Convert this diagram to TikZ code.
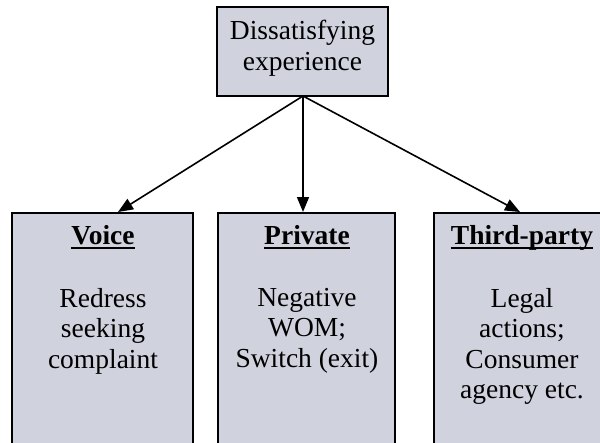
\documentclass[tikz,border=0pt]{standalone}
\usepackage{fontspec}
\setmainfont{Liberation Serif}
\usetikzlibrary{arrows.meta}
\definecolor{boxfill}{RGB}{208,211,222}
% bold heading with a heavier rule under it
\newcommand{\hdline}[1]{\setbox0\hbox{#1}\rlap{\rule[-4.5pt]{\wd0}{2pt}}\box0}
\begin{document}
\begin{tikzpicture}[x=1pt,y=-1pt,
  box/.style={draw=black, line width=1.7pt, fill=boxfill, inner sep=0pt},
  txt/.style={font=\fontsize{27.5}{30.5}\selectfont, align=center, inner sep=0pt},
  link/.style={line width=1.6pt, -{Triangle[width=12pt,length=15pt]}}]
\useasboundingbox (0,0) rectangle (600,442);
\clip (0,0) rectangle (600,442);

% source box
\node[box, minimum width=171pt, minimum height=89pt] (top) at (302.5,51.5) {};
\node[txt] (topText) at (302.5,48) {Dissatisfying\\experience};

% three response categories (they run past the lower edge)
\node[box, minimum width=181pt, minimum height=250pt, anchor=north] (voice) at (102.5,212) {};
\node[box, minimum width=177pt, minimum height=250pt, anchor=north] (private) at (306.5,212) {};
\node[box, minimum width=176pt, minimum height=250pt, anchor=north] (third) at (522,212) {};

\node[txt, anchor=base] (voiceHead) at (103,244) {\hdline{\textbf{Voice}}};
\node[txt, anchor=base] (privateHead) at (307,244) {\hdline{\textbf{Private}}};
\node[txt, anchor=base] (thirdHead) at (522,244) {\hdline{\textbf{Third-party}}};

\node[txt, anchor=north] (voiceBody) at (103,288) {Redress\\seeking\\complaint};
\node[txt, anchor=north] (privateBody) at (307,288) {Negative\\WOM;\\Switch (exit)};
\node[txt, anchor=north] (thirdBody) at (522,288) {Legal\\actions;\\Consumer\\agency etc.};

% arrow tips on the top edges of the lower boxes
\coordinate (tipV) at (118,212);
\coordinate (tipP) at (303,212);
\coordinate (tipT) at (520,212);
\coordinate (src) at (303,96);

\draw[link] (src) -- (tipV);
\draw[link] (src) -- (tipP);
\draw[link] (src) -- (tipT);
\end{tikzpicture}
\end{document}
